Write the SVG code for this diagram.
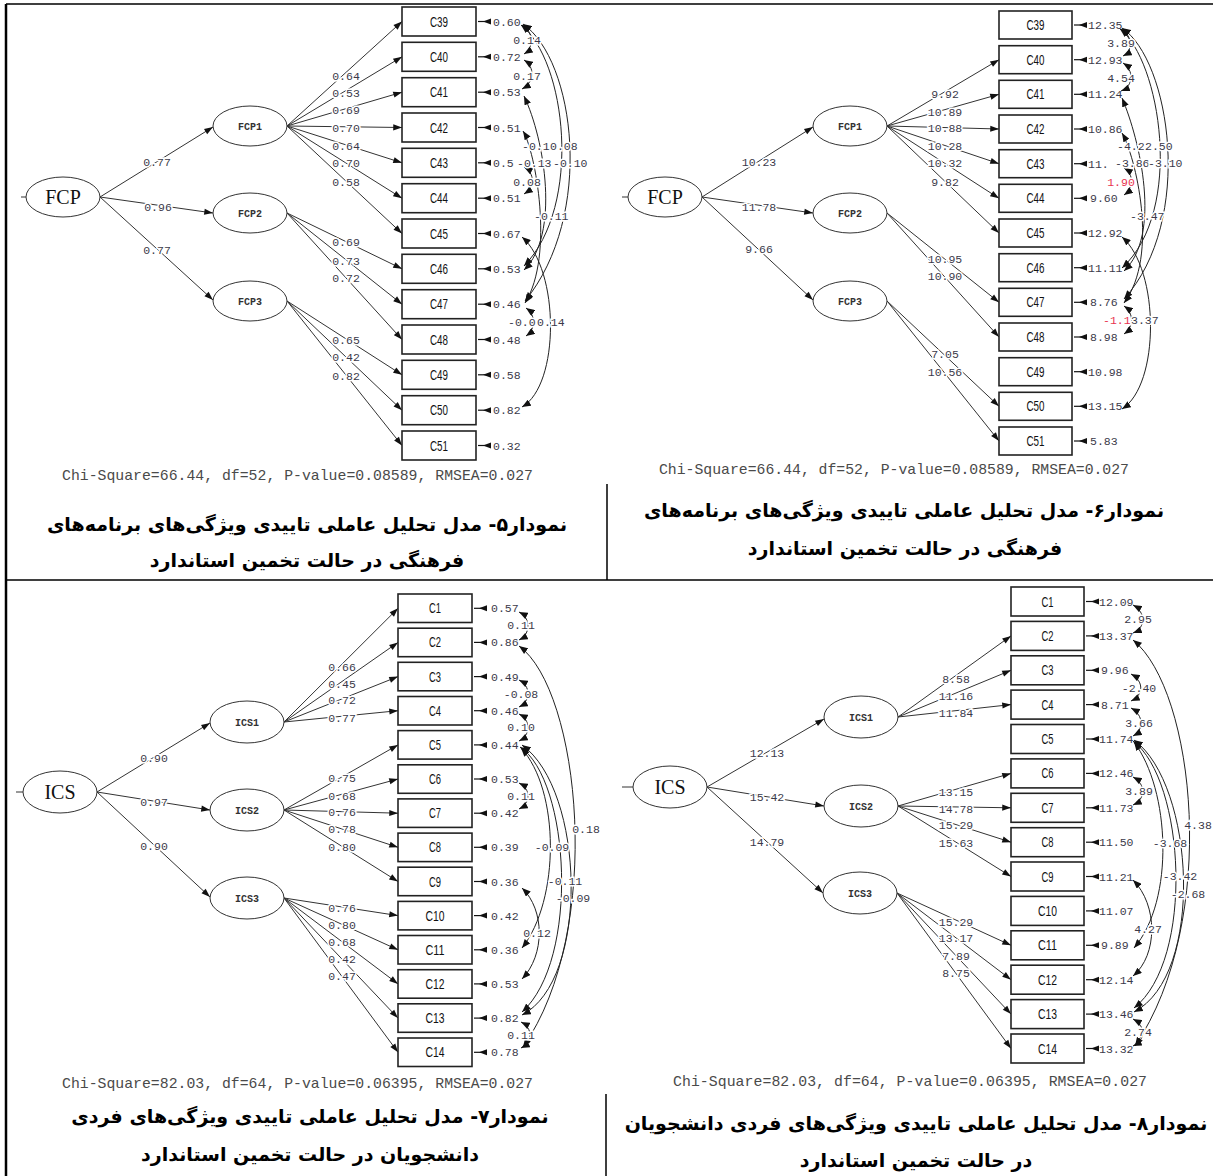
<svg xmlns="http://www.w3.org/2000/svg" xmlns:xlink="http://www.w3.org/1999/xlink" width="1213" height="1176" viewBox="0 0 1213 1176">
<style>
.ln{stroke:#333;stroke-width:1;fill:none}
.ar{stroke:#333;stroke-width:1;fill:none;marker-end:url(#ah)}
.cv{stroke:#222;stroke-width:1;fill:none;marker-start:url(#ch);marker-end:url(#ch)}
.ell{fill:#fff;stroke:#333;stroke-width:1}
.box{fill:#fff;stroke:#222;stroke-width:1.6}
.big{font-family:"Liberation Serif",serif;font-size:20px;text-anchor:middle;fill:#111}
.sm{font-family:"Liberation Mono",monospace;font-size:10px;font-weight:bold;text-anchor:middle;fill:#333}
.bt{font-family:"Liberation Sans Narrow","Liberation Sans",sans-serif;font-size:14px;text-anchor:middle;fill:#111}
.pl{font-family:"Liberation Mono",monospace;font-size:11.5px;fill:#3b3a4a;paint-order:stroke;stroke:#fff;stroke-width:3px}
.c{text-anchor:middle}
.red{fill:#e8334f}
.val{font-family:"Liberation Mono",monospace;font-size:11.5px;fill:#3b3a4a}
.chi{font-family:"Liberation Mono",monospace;font-size:14.8px;fill:#4a4a4a}
.cap{font-family:"DejaVu Sans",sans-serif;font-weight:bold;font-size:19px;text-anchor:middle;direction:rtl;fill:#000}
.tb{stroke:#000;fill:none}
</style>
<defs>
<marker id="ah" viewBox="0 0 10 8" refX="10" refY="4" markerWidth="10" markerHeight="7" markerUnits="userSpaceOnUse" orient="auto"><path d="M0,0.5 L10,4 L0,7.5 Z" fill="#111"/></marker>
<marker id="ch" viewBox="0 0 10 8" refX="10" refY="4" markerWidth="9" markerHeight="7" markerUnits="userSpaceOnUse" orient="auto-start-reverse"><path d="M0,0 L10,4 L0,8 Z" fill="#111"/></marker>
<g id="ea"><line x1="0" y1="0" x2="13" y2="0" stroke="#111" stroke-width="1.2"/><path d="M5,0 L13,-3 L13,3 Z" fill="#111"/></g>
</defs>

<g id="table">
<path class="tb" stroke-width="1.5" d="M6,4 H1213 M6,580 H1213"/>
<path class="tb" stroke-width="2.5" d="M6,4 V1176"/>
<path class="tb" stroke-width="1.5" d="M607,484 V580 M606,1094 V1176"/>
</g>

<!-- ================= TOP LEFT ================= -->
<g id="tl-connectors">
<path class="ln" d="M21,197 H26"/>
<path class="ar" d="M100,197 L213,127"/>
<path class="ar" d="M100,197 L213,213"/>
<path class="ar" d="M100,197 L213,300"/>
<path class="ar" d="M287,126 L402,21.5"/>
<path class="ar" d="M287,126 L402,56.8"/>
<path class="ar" d="M287,126 L402,92.2"/>
<path class="ar" d="M287,126 L402,127.5"/>
<path class="ar" d="M287,126 L402,162.8"/>
<path class="ar" d="M287,126 L402,198.2"/>
<path class="ar" d="M287,126 L402,233.5"/>
<path class="ar" d="M287,213 L402,268.8"/>
<path class="ar" d="M287,213 L402,304.2"/>
<path class="ar" d="M287,213 L402,339.5"/>
<path class="ar" d="M287,301 L402,374.8"/>
<path class="ar" d="M287,301 L402,410.2"/>
<path class="ar" d="M287,301 L402,445.5"/>
<use href="#ea" x="478" y="21.5"/><use href="#ea" x="478" y="56.8"/><use href="#ea" x="478" y="92.2"/><use href="#ea" x="478" y="127.5"/><use href="#ea" x="478" y="162.8"/><use href="#ea" x="478" y="198.2"/><use href="#ea" x="478" y="233.5"/><use href="#ea" x="478" y="268.8"/><use href="#ea" x="478" y="304.2"/><use href="#ea" x="478" y="339.5"/><use href="#ea" x="478" y="374.8"/><use href="#ea" x="478" y="410.2"/><use href="#ea" x="478" y="445.5"/>
</g>
<g id="tl-nodes">
<g id="tl-FCP"><ellipse class="ell" cx="63" cy="197" rx="37" ry="20"/><text class="big" x="63" y="204">FCP</text></g>
<g id="tl-FCP1"><ellipse class="ell" cx="250" cy="126" rx="37" ry="20"/><text class="sm" x="250" y="130">FCP1</text></g>
<g id="tl-FCP2"><ellipse class="ell" cx="250" cy="213" rx="37" ry="20"/><text class="sm" x="250" y="217">FCP2</text></g>
<g id="tl-FCP3"><ellipse class="ell" cx="250" cy="301" rx="37" ry="20"/><text class="sm" x="250" y="305">FCP3</text></g>
<g id="tl-C39"><rect class="box" x="402" y="7" width="74" height="29"/><text class="bt" x="439" y="26.5" textLength="18" lengthAdjust="spacingAndGlyphs">C39</text></g>
<g id="tl-C40"><rect class="box" x="402" y="42.3" width="74" height="29"/><text class="bt" x="439" y="61.8" textLength="18" lengthAdjust="spacingAndGlyphs">C40</text></g>
<g id="tl-C41"><rect class="box" x="402" y="77.7" width="74" height="29"/><text class="bt" x="439" y="97.2" textLength="18" lengthAdjust="spacingAndGlyphs">C41</text></g>
<g id="tl-C42"><rect class="box" x="402" y="113" width="74" height="29"/><text class="bt" x="439" y="132.5" textLength="18" lengthAdjust="spacingAndGlyphs">C42</text></g>
<g id="tl-C43"><rect class="box" x="402" y="148.3" width="74" height="29"/><text class="bt" x="439" y="167.8" textLength="18" lengthAdjust="spacingAndGlyphs">C43</text></g>
<g id="tl-C44"><rect class="box" x="402" y="183.7" width="74" height="29"/><text class="bt" x="439" y="203.2" textLength="18" lengthAdjust="spacingAndGlyphs">C44</text></g>
<g id="tl-C45"><rect class="box" x="402" y="219" width="74" height="29"/><text class="bt" x="439" y="238.5" textLength="18" lengthAdjust="spacingAndGlyphs">C45</text></g>
<g id="tl-C46"><rect class="box" x="402" y="254.3" width="74" height="29"/><text class="bt" x="439" y="273.8" textLength="18" lengthAdjust="spacingAndGlyphs">C46</text></g>
<g id="tl-C47"><rect class="box" x="402" y="289.7" width="74" height="29"/><text class="bt" x="439" y="309.2" textLength="18" lengthAdjust="spacingAndGlyphs">C47</text></g>
<g id="tl-C48"><rect class="box" x="402" y="325" width="74" height="29"/><text class="bt" x="439" y="344.5" textLength="18" lengthAdjust="spacingAndGlyphs">C48</text></g>
<g id="tl-C49"><rect class="box" x="402" y="360.3" width="74" height="29"/><text class="bt" x="439" y="379.8" textLength="18" lengthAdjust="spacingAndGlyphs">C49</text></g>
<g id="tl-C50"><rect class="box" x="402" y="395.7" width="74" height="29"/><text class="bt" x="439" y="415.2" textLength="18" lengthAdjust="spacingAndGlyphs">C50</text></g>
<g id="tl-C51"><rect class="box" x="402" y="431" width="74" height="29"/><text class="bt" x="439" y="450.5" textLength="18" lengthAdjust="spacingAndGlyphs">C51</text></g>
</g>
<g id="tl-values">
<text class="val" x="493" y="25.5">0.60</text><text class="val" x="493" y="60.8">0.72</text><text class="val" x="493" y="96.2">0.53</text><text class="val" x="493" y="131.5">0.51</text><text class="val" x="493" y="166.8">0.5</text><text class="val" x="493" y="202.2">0.51</text><text class="val" x="493" y="237.5">0.67</text><text class="val" x="493" y="272.8">0.53</text><text class="val" x="493" y="308.2">0.46</text><text class="val" x="493" y="343.5">0.48</text><text class="val" x="493" y="378.8">0.58</text><text class="val" x="493" y="414.2">0.82</text><text class="val" x="493" y="449.5">0.32</text>
</g>
<g id="tl-covariances">
<path class="cv" d="M522,25 C534,32 534,48 524,54"/>
<path class="cv" d="M524,60 C535,67 535,82 522,89"/>
<path class="cv" d="M524,167 C535,173 535,187 524,194"/>
<path class="cv" d="M521,25 C566,60 583,205 524,266"/>
<path class="cv" d="M523,24 C575,60 595,215 525,301"/>
<path class="cv" d="M524,96 C545,140 560,235 524,270"/>
<path class="cv" d="M523,131 C535,150 555,255 525,303"/>
<path class="cv" d="M522,237 C560,270 560,385 522,407"/>
<path class="cv" d="M526,308 C536,315 536,329 526,336"/>
</g>
<g id="tl-labels">
<text class="pl c" x="157" y="166">0.77</text>
<text class="pl c" x="158" y="211">0.96</text>
<text class="pl c" x="157" y="254">0.77</text>
<text class="pl c" x="346" y="80">0.64</text>
<text class="pl c" x="346" y="97">0.53</text>
<text class="pl c" x="346" y="114">0.69</text>
<text class="pl c" x="346" y="132">0.70</text>
<text class="pl c" x="346" y="150">0.64</text>
<text class="pl c" x="346" y="167">0.70</text>
<text class="pl c" x="346" y="186">0.58</text>
<text class="pl c" x="346" y="246">0.69</text>
<text class="pl c" x="346" y="265">0.73</text>
<text class="pl c" x="346" y="282">0.72</text>
<text class="pl c" x="346" y="344">0.65</text>
<text class="pl c" x="346" y="361">0.42</text>
<text class="pl c" x="346" y="380">0.82</text>
<text class="pl c" x="527" y="44">0.14</text>
<text class="pl c" x="527" y="80">0.17</text>
<text class="pl c" x="527" y="186">0.08</text>
<text class="pl" x="522" y="150">-0.1</text>
<text class="pl" x="550" y="150">0.08</text>
<text class="pl" x="517" y="167">-0.13</text>
<text class="pl" x="553" y="167">-0.10</text>
<text class="pl" x="534" y="220">-0.11</text>
<text class="pl" x="508" y="326">-0.0</text>
<text class="pl" x="537" y="326">0.14</text>
<text class="chi" x="62" y="480" textLength="471">Chi-Square=66.44, df=52, P-value=0.08589, RMSEA=0.027</text>
</g>

<!-- ================= TOP RIGHT ================= -->
<g id="tr-connectors">
<path class="ln" d="M622,197 H628"/>
<path class="ar" d="M702,197 L813,127"/>
<path class="ar" d="M702,197 L813,213"/>
<path class="ar" d="M702,197 L813,300"/>
<path class="ar" d="M887,126 L999,59.7"/>
<path class="ar" d="M887,126 L999,94.3"/>
<path class="ar" d="M887,126 L999,129"/>
<path class="ar" d="M887,126 L999,163.7"/>
<path class="ar" d="M887,126 L999,198.3"/>
<path class="ar" d="M887,126 L999,233"/>
<path class="ar" d="M887,213 L999,302.3"/>
<path class="ar" d="M887,213 L999,337"/>
<path class="ar" d="M887,301 L999,406.3"/>
<path class="ar" d="M887,301 L999,441"/>
<use href="#ea" x="1074" y="25"/><use href="#ea" x="1074" y="59.7"/><use href="#ea" x="1074" y="94.3"/><use href="#ea" x="1074" y="129"/><use href="#ea" x="1074" y="163.7"/><use href="#ea" x="1074" y="198.3"/><use href="#ea" x="1074" y="233"/><use href="#ea" x="1074" y="267.7"/><use href="#ea" x="1074" y="302.3"/><use href="#ea" x="1074" y="337"/><use href="#ea" x="1074" y="371.7"/><use href="#ea" x="1074" y="406.3"/><use href="#ea" x="1074" y="441"/>
</g>
<g id="tr-nodes">
<g id="tr-FCP"><ellipse class="ell" cx="665" cy="197" rx="37" ry="20"/><text class="big" x="665" y="204">FCP</text></g>
<g id="tr-FCP1"><ellipse class="ell" cx="850" cy="126" rx="37" ry="20"/><text class="sm" x="850" y="130">FCP1</text></g>
<g id="tr-FCP2"><ellipse class="ell" cx="850" cy="213" rx="37" ry="20"/><text class="sm" x="850" y="217">FCP2</text></g>
<g id="tr-FCP3"><ellipse class="ell" cx="850" cy="301" rx="37" ry="20"/><text class="sm" x="850" y="305">FCP3</text></g>
<g id="tr-C39"><rect class="box" x="999" y="11" width="73" height="28"/><text class="bt" x="1035.5" y="30" textLength="18" lengthAdjust="spacingAndGlyphs">C39</text></g>
<g id="tr-C40"><rect class="box" x="999" y="45.7" width="73" height="28"/><text class="bt" x="1035.5" y="64.7" textLength="18" lengthAdjust="spacingAndGlyphs">C40</text></g>
<g id="tr-C41"><rect class="box" x="999" y="80.3" width="73" height="28"/><text class="bt" x="1035.5" y="99.3" textLength="18" lengthAdjust="spacingAndGlyphs">C41</text></g>
<g id="tr-C42"><rect class="box" x="999" y="115" width="73" height="28"/><text class="bt" x="1035.5" y="134" textLength="18" lengthAdjust="spacingAndGlyphs">C42</text></g>
<g id="tr-C43"><rect class="box" x="999" y="149.7" width="73" height="28"/><text class="bt" x="1035.5" y="168.7" textLength="18" lengthAdjust="spacingAndGlyphs">C43</text></g>
<g id="tr-C44"><rect class="box" x="999" y="184.3" width="73" height="28"/><text class="bt" x="1035.5" y="203.3" textLength="18" lengthAdjust="spacingAndGlyphs">C44</text></g>
<g id="tr-C45"><rect class="box" x="999" y="219" width="73" height="28"/><text class="bt" x="1035.5" y="238" textLength="18" lengthAdjust="spacingAndGlyphs">C45</text></g>
<g id="tr-C46"><rect class="box" x="999" y="253.7" width="73" height="28"/><text class="bt" x="1035.5" y="272.7" textLength="18" lengthAdjust="spacingAndGlyphs">C46</text></g>
<g id="tr-C47"><rect class="box" x="999" y="288.3" width="73" height="28"/><text class="bt" x="1035.5" y="307.3" textLength="18" lengthAdjust="spacingAndGlyphs">C47</text></g>
<g id="tr-C48"><rect class="box" x="999" y="323" width="73" height="28"/><text class="bt" x="1035.5" y="342" textLength="18" lengthAdjust="spacingAndGlyphs">C48</text></g>
<g id="tr-C49"><rect class="box" x="999" y="357.7" width="73" height="28"/><text class="bt" x="1035.5" y="376.7" textLength="18" lengthAdjust="spacingAndGlyphs">C49</text></g>
<g id="tr-C50"><rect class="box" x="999" y="392.3" width="73" height="28"/><text class="bt" x="1035.5" y="411.3" textLength="18" lengthAdjust="spacingAndGlyphs">C50</text></g>
<g id="tr-C51"><rect class="box" x="999" y="427" width="73" height="28"/><text class="bt" x="1035.5" y="446" textLength="18" lengthAdjust="spacingAndGlyphs">C51</text></g>
</g>
<g id="tr-values">
<text class="val" x="1088" y="29">12.35</text><text class="val" x="1088" y="63.7">12.93</text><text class="val" x="1088" y="98.3">11.24</text><text class="val" x="1088" y="133">10.86</text><text class="val" x="1088" y="167.7">11.</text><text class="val" x="1090" y="202.3">9.60</text><text class="val" x="1088" y="237">12.92</text><text class="val" x="1088" y="271.7">11.11</text><text class="val" x="1090" y="306.3">8.76</text><text class="val" x="1090" y="341">8.98</text><text class="val" x="1088" y="375.7">10.98</text><text class="val" x="1088" y="410.3">13.15</text><text class="val" x="1090" y="445">5.83</text>
</g>
<g id="tr-covariances">
<path class="cv" d="M1121,29 C1133,36 1133,51 1123,56"/>
<path class="cv" d="M1123,63 C1134,70 1134,86 1121,91"/>
<path class="cv" d="M1124,168 C1134,174 1134,188 1124,195"/>
<path class="cv" d="M1120,29 C1160,60 1185,210 1122,268"/>
<path class="cv" d="M1122,28 C1170,60 1195,220 1124,299"/>
<path class="cv" d="M1122,98 C1140,140 1162,235 1124,271"/>
<path class="cv" d="M1122,133 C1135,155 1160,255 1124,303"/>
<path class="cv" d="M1122,237 C1160,270 1160,385 1122,409"/>
<path class="cv" d="M1124,306 C1134,313 1134,327 1124,334"/>
</g>
<g id="tr-labels">
<text class="pl c" x="759" y="166">10.23</text>
<text class="pl c" x="759" y="211">11.78</text>
<text class="pl c" x="759" y="253">9.66</text>
<text class="pl c" x="945" y="98">9.92</text>
<text class="pl c" x="945" y="116">10.89</text>
<text class="pl c" x="945" y="132">10.88</text>
<text class="pl c" x="945" y="150">10.28</text>
<text class="pl c" x="945" y="167">10.32</text>
<text class="pl c" x="945" y="186">9.82</text>
<text class="pl c" x="945" y="263">10.95</text>
<text class="pl c" x="945" y="280">10.90</text>
<text class="pl c" x="945" y="358">7.05</text>
<text class="pl c" x="945" y="376">10.56</text>
<text class="pl c" x="1121" y="47">3.89</text>
<text class="pl c" x="1121" y="82">4.54</text>
<text class="pl" x="1117" y="150">-4.2</text>
<text class="pl" x="1145" y="150">2.50</text>
<text class="pl" x="1115" y="167">-3.86</text>
<text class="pl" x="1148" y="167">-3.10</text>
<text class="pl c red" x="1121" y="186">1.90</text>
<text class="pl" x="1130" y="220">-3.47</text>
<text class="pl red" x="1103" y="324">-1.1</text>
<text class="pl" x="1131" y="324">3.37</text>
<text class="chi" x="659" y="474" textLength="470">Chi-Square=66.44, df=52, P-value=0.08589, RMSEA=0.027</text>
</g>

<!-- ================= BOTTOM LEFT ================= -->
<g id="bl-connectors">
<path class="ln" d="M16,792 H23"/>
<path class="ar" d="M97,792 L210,723"/>
<path class="ar" d="M97,792 L210,810"/>
<path class="ar" d="M97,792 L210,897"/>
<path class="ar" d="M284,722 L398,608.3"/>
<path class="ar" d="M284,722 L398,642.4"/>
<path class="ar" d="M284,722 L398,676.6"/>
<path class="ar" d="M284,722 L398,710.7"/>
<path class="ar" d="M284,810 L398,744.9"/>
<path class="ar" d="M284,810 L398,779"/>
<path class="ar" d="M284,810 L398,813.2"/>
<path class="ar" d="M284,810 L398,847.3"/>
<path class="ar" d="M284,810 L398,881.5"/>
<path class="ar" d="M284,898 L398,915.6"/>
<path class="ar" d="M284,898 L398,949.8"/>
<path class="ar" d="M284,898 L398,983.9"/>
<path class="ar" d="M284,898 L398,1018.1"/>
<path class="ar" d="M284,898 L398,1052.3"/>
<use href="#ea" x="474" y="608.3"/><use href="#ea" x="474" y="642.4"/><use href="#ea" x="474" y="676.6"/><use href="#ea" x="474" y="710.7"/><use href="#ea" x="474" y="744.9"/><use href="#ea" x="474" y="779"/><use href="#ea" x="474" y="813.2"/><use href="#ea" x="474" y="847.3"/><use href="#ea" x="474" y="881.5"/><use href="#ea" x="474" y="915.6"/><use href="#ea" x="474" y="949.8"/><use href="#ea" x="474" y="983.9"/><use href="#ea" x="474" y="1018.1"/><use href="#ea" x="474" y="1052.3"/>
</g>
<g id="bl-nodes">
<g id="bl-ICS"><ellipse class="ell" cx="60" cy="792" rx="37" ry="21"/><text class="big" x="60" y="799">ICS</text></g>
<g id="bl-ICS1"><ellipse class="ell" cx="247" cy="722" rx="37" ry="21"/><text class="sm" x="247" y="726">ICS1</text></g>
<g id="bl-ICS2"><ellipse class="ell" cx="247" cy="810" rx="37" ry="21"/><text class="sm" x="247" y="814">ICS2</text></g>
<g id="bl-ICS3"><ellipse class="ell" cx="247" cy="898" rx="37" ry="21"/><text class="sm" x="247" y="902">ICS3</text></g>
<g id="bl-C1"><rect class="box" x="398" y="594" width="74" height="28.5"/><text class="bt" x="435" y="613.3" textLength="12" lengthAdjust="spacingAndGlyphs">C1</text></g>
<g id="bl-C2"><rect class="box" x="398" y="628.2" width="74" height="28.5"/><text class="bt" x="435" y="647.4" textLength="12" lengthAdjust="spacingAndGlyphs">C2</text></g>
<g id="bl-C3"><rect class="box" x="398" y="662.3" width="74" height="28.5"/><text class="bt" x="435" y="681.6" textLength="12" lengthAdjust="spacingAndGlyphs">C3</text></g>
<g id="bl-C4"><rect class="box" x="398" y="696.5" width="74" height="28.5"/><text class="bt" x="435" y="715.7" textLength="12" lengthAdjust="spacingAndGlyphs">C4</text></g>
<g id="bl-C5"><rect class="box" x="398" y="730.6" width="74" height="28.5"/><text class="bt" x="435" y="749.9" textLength="12" lengthAdjust="spacingAndGlyphs">C5</text></g>
<g id="bl-C6"><rect class="box" x="398" y="764.8" width="74" height="28.5"/><text class="bt" x="435" y="784" textLength="12" lengthAdjust="spacingAndGlyphs">C6</text></g>
<g id="bl-C7"><rect class="box" x="398" y="798.9" width="74" height="28.5"/><text class="bt" x="435" y="818.2" textLength="12" lengthAdjust="spacingAndGlyphs">C7</text></g>
<g id="bl-C8"><rect class="box" x="398" y="833.1" width="74" height="28.5"/><text class="bt" x="435" y="852.3" textLength="12" lengthAdjust="spacingAndGlyphs">C8</text></g>
<g id="bl-C9"><rect class="box" x="398" y="867.2" width="74" height="28.5"/><text class="bt" x="435" y="886.5" textLength="12" lengthAdjust="spacingAndGlyphs">C9</text></g>
<g id="bl-C10"><rect class="box" x="398" y="901.4" width="74" height="28.5"/><text class="bt" x="435" y="920.6" textLength="19" lengthAdjust="spacingAndGlyphs">C10</text></g>
<g id="bl-C11"><rect class="box" x="398" y="935.5" width="74" height="28.5"/><text class="bt" x="435" y="954.8" textLength="19" lengthAdjust="spacingAndGlyphs">C11</text></g>
<g id="bl-C12"><rect class="box" x="398" y="969.7" width="74" height="28.5"/><text class="bt" x="435" y="988.9" textLength="19" lengthAdjust="spacingAndGlyphs">C12</text></g>
<g id="bl-C13"><rect class="box" x="398" y="1003.8" width="74" height="28.5"/><text class="bt" x="435" y="1023.1" textLength="19" lengthAdjust="spacingAndGlyphs">C13</text></g>
<g id="bl-C14"><rect class="box" x="398" y="1038" width="74" height="28.5"/><text class="bt" x="435" y="1057.3" textLength="19" lengthAdjust="spacingAndGlyphs">C14</text></g>
</g>
<g id="bl-values">
<text class="val" x="491" y="612.3">0.57</text><text class="val" x="491" y="646.4">0.86</text><text class="val" x="491" y="680.6">0.49</text><text class="val" x="491" y="714.7">0.46</text><text class="val" x="491" y="748.9">0.44</text><text class="val" x="491" y="783">0.53</text><text class="val" x="491" y="817.2">0.42</text><text class="val" x="491" y="851.3">0.39</text><text class="val" x="491" y="885.5">0.36</text><text class="val" x="491" y="919.6">0.42</text><text class="val" x="491" y="953.8">0.36</text><text class="val" x="491" y="987.9">0.53</text><text class="val" x="491" y="1022.1">0.82</text><text class="val" x="491" y="1056.3">0.78</text>
</g>
<g id="bl-covariances">
<path class="cv" d="M519,612 C531,618 531,634 519,640"/>
<path class="cv" d="M519,680 C531,686 531,701 519,707"/>
<path class="cv" d="M519,714 C531,720 531,735 519,741"/>
<path class="cv" d="M519,783 C531,789 531,803 519,809"/>
<path class="cv" d="M519,646 C580,690 605,930 523,1047"/>
<path class="cv" d="M521,748 C560,790 560,900 522,948"/>
<path class="cv" d="M520,747 C570,780 580,960 522,1012"/>
<path class="cv" d="M522,745 C585,790 590,980 522,1015"/>
<path class="cv" d="M522,888 C545,910 545,955 522,979"/>
<path class="cv" d="M521,1022 C533,1028 533,1042 521,1048"/>
</g>
<g id="bl-labels">
<text class="pl c" x="154" y="762">0.90</text>
<text class="pl c" x="154" y="806">0.97</text>
<text class="pl c" x="154" y="850">0.90</text>
<text class="pl c" x="342" y="671">0.66</text>
<text class="pl c" x="342" y="688">0.45</text>
<text class="pl c" x="342" y="704">0.72</text>
<text class="pl c" x="342" y="722">0.77</text>
<text class="pl c" x="342" y="782">0.75</text>
<text class="pl c" x="342" y="800">0.68</text>
<text class="pl c" x="342" y="816">0.76</text>
<text class="pl c" x="342" y="833">0.78</text>
<text class="pl c" x="342" y="851">0.80</text>
<text class="pl c" x="342" y="912">0.76</text>
<text class="pl c" x="342" y="929">0.80</text>
<text class="pl c" x="342" y="946">0.68</text>
<text class="pl c" x="342" y="963">0.42</text>
<text class="pl c" x="342" y="980">0.47</text>
<text class="pl c" x="521" y="629">0.11</text>
<text class="pl c" x="521" y="698">-0.08</text>
<text class="pl c" x="521" y="731">0.10</text>
<text class="pl c" x="521" y="800">0.11</text>
<text class="pl c" x="586" y="833">0.18</text>
<text class="pl c" x="552" y="851">-0.09</text>
<text class="pl c" x="565" y="885">-0.11</text>
<text class="pl c" x="573" y="902">-0.09</text>
<text class="pl c" x="537" y="937">0.12</text>
<text class="pl c" x="521" y="1039">0.11</text>
<text class="chi" x="62" y="1088" textLength="471">Chi-Square=82.03, df=64, P-value=0.06395, RMSEA=0.027</text>
</g>

<!-- ================= BOTTOM RIGHT ================= -->
<g id="br-connectors">
<path class="ln" d="M622,787 H633"/>
<path class="ar" d="M707,787 L824,719"/>
<path class="ar" d="M707,787 L824,806"/>
<path class="ar" d="M707,787 L823,893"/>
<path class="ar" d="M898,717 L1011,635.9"/>
<path class="ar" d="M898,717 L1011,670.3"/>
<path class="ar" d="M898,717 L1011,704.6"/>
<path class="ar" d="M898,806 L1011,773.4"/>
<path class="ar" d="M898,806 L1011,807.8"/>
<path class="ar" d="M898,806 L1011,842.2"/>
<path class="ar" d="M898,806 L1011,876.5"/>
<path class="ar" d="M897,893 L1011,945.3"/>
<path class="ar" d="M897,893 L1011,979.7"/>
<path class="ar" d="M897,893 L1011,1014.1"/>
<path class="ar" d="M897,893 L1011,1048.5"/>
<use href="#ea" x="1086" y="601.5"/><use href="#ea" x="1086" y="635.9"/><use href="#ea" x="1086" y="670.3"/><use href="#ea" x="1086" y="704.6"/><use href="#ea" x="1086" y="739"/><use href="#ea" x="1086" y="773.4"/><use href="#ea" x="1086" y="807.8"/><use href="#ea" x="1086" y="842.2"/><use href="#ea" x="1086" y="876.5"/><use href="#ea" x="1086" y="910.9"/><use href="#ea" x="1086" y="945.3"/><use href="#ea" x="1086" y="979.7"/><use href="#ea" x="1086" y="1014.1"/><use href="#ea" x="1086" y="1048.5"/>
</g>
<g id="br-nodes">
<g id="br-ICS"><ellipse class="ell" cx="670" cy="787" rx="37" ry="21"/><text class="big" x="670" y="794">ICS</text></g>
<g id="br-ICS1"><ellipse class="ell" cx="861" cy="717" rx="37" ry="21"/><text class="sm" x="861" y="721">ICS1</text></g>
<g id="br-ICS2"><ellipse class="ell" cx="861" cy="806" rx="37" ry="21"/><text class="sm" x="861" y="810">ICS2</text></g>
<g id="br-ICS3"><ellipse class="ell" cx="860" cy="893" rx="37" ry="21"/><text class="sm" x="860" y="897">ICS3</text></g>
<g id="br-C1"><rect class="box" x="1011" y="587" width="73" height="29"/><text class="bt" x="1047.5" y="606.5" textLength="12" lengthAdjust="spacingAndGlyphs">C1</text></g>
<g id="br-C2"><rect class="box" x="1011" y="621.4" width="73" height="29"/><text class="bt" x="1047.5" y="640.9" textLength="12" lengthAdjust="spacingAndGlyphs">C2</text></g>
<g id="br-C3"><rect class="box" x="1011" y="655.8" width="73" height="29"/><text class="bt" x="1047.5" y="675.3" textLength="12" lengthAdjust="spacingAndGlyphs">C3</text></g>
<g id="br-C4"><rect class="box" x="1011" y="690.1" width="73" height="29"/><text class="bt" x="1047.5" y="709.6" textLength="12" lengthAdjust="spacingAndGlyphs">C4</text></g>
<g id="br-C5"><rect class="box" x="1011" y="724.5" width="73" height="29"/><text class="bt" x="1047.5" y="744" textLength="12" lengthAdjust="spacingAndGlyphs">C5</text></g>
<g id="br-C6"><rect class="box" x="1011" y="758.9" width="73" height="29"/><text class="bt" x="1047.5" y="778.4" textLength="12" lengthAdjust="spacingAndGlyphs">C6</text></g>
<g id="br-C7"><rect class="box" x="1011" y="793.3" width="73" height="29"/><text class="bt" x="1047.5" y="812.8" textLength="12" lengthAdjust="spacingAndGlyphs">C7</text></g>
<g id="br-C8"><rect class="box" x="1011" y="827.7" width="73" height="29"/><text class="bt" x="1047.5" y="847.2" textLength="12" lengthAdjust="spacingAndGlyphs">C8</text></g>
<g id="br-C9"><rect class="box" x="1011" y="862" width="73" height="29"/><text class="bt" x="1047.5" y="881.5" textLength="12" lengthAdjust="spacingAndGlyphs">C9</text></g>
<g id="br-C10"><rect class="box" x="1011" y="896.4" width="73" height="29"/><text class="bt" x="1047.5" y="915.9" textLength="19" lengthAdjust="spacingAndGlyphs">C10</text></g>
<g id="br-C11"><rect class="box" x="1011" y="930.8" width="73" height="29"/><text class="bt" x="1047.5" y="950.3" textLength="19" lengthAdjust="spacingAndGlyphs">C11</text></g>
<g id="br-C12"><rect class="box" x="1011" y="965.2" width="73" height="29"/><text class="bt" x="1047.5" y="984.7" textLength="19" lengthAdjust="spacingAndGlyphs">C12</text></g>
<g id="br-C13"><rect class="box" x="1011" y="999.6" width="73" height="29"/><text class="bt" x="1047.5" y="1019.1" textLength="19" lengthAdjust="spacingAndGlyphs">C13</text></g>
<g id="br-C14"><rect class="box" x="1011" y="1034" width="73" height="29"/><text class="bt" x="1047.5" y="1053.5" textLength="19" lengthAdjust="spacingAndGlyphs">C14</text></g>
</g>
<g id="br-values">
<text class="val" x="1099" y="605.5">12.09</text><text class="val" x="1099" y="639.9">13.37</text><text class="val" x="1101" y="674.3">9.96</text><text class="val" x="1101" y="708.6">8.71</text><text class="val" x="1099" y="743">11.74</text><text class="val" x="1099" y="777.4">12.46</text><text class="val" x="1099" y="811.8">11.73</text><text class="val" x="1099" y="846.2">11.50</text><text class="val" x="1099" y="880.5">11.21</text><text class="val" x="1099" y="914.9">11.07</text><text class="val" x="1101" y="949.3">9.89</text><text class="val" x="1099" y="983.7">12.14</text><text class="val" x="1099" y="1018.1">13.46</text><text class="val" x="1099" y="1052.5">13.32</text>
</g>
<g id="br-covariances">
<path class="cv" d="M1133,605 C1146,612 1146,628 1133,633"/>
<path class="cv" d="M1131,674 C1144,681 1144,695 1131,701"/>
<path class="cv" d="M1131,708 C1144,715 1144,730 1133,736"/>
<path class="cv" d="M1133,777 C1146,784 1146,799 1133,805"/>
<path class="cv" d="M1133,640 C1195,690 1220,920 1135,1046"/>
<path class="cv" d="M1134,742 C1170,790 1175,900 1134,948"/>
<path class="cv" d="M1133,741 C1185,780 1195,960 1134,1008"/>
<path class="cv" d="M1134,740 C1195,785 1205,975 1134,1012"/>
<path class="cv" d="M1133,880 C1158,905 1158,955 1133,976"/>
<path class="cv" d="M1133,1019 C1146,1026 1146,1040 1133,1046"/>
</g>
<g id="br-labels">
<text class="pl c" x="767" y="757">12.13</text>
<text class="pl c" x="767" y="801">15.42</text>
<text class="pl c" x="767" y="846">14.79</text>
<text class="pl c" x="956" y="683">8.58</text>
<text class="pl c" x="956" y="700">11.16</text>
<text class="pl c" x="956" y="717">11.84</text>
<text class="pl c" x="956" y="796">13.15</text>
<text class="pl c" x="956" y="813">14.78</text>
<text class="pl c" x="956" y="829">15.29</text>
<text class="pl c" x="956" y="847">15.63</text>
<text class="pl c" x="956" y="926">15.29</text>
<text class="pl c" x="956" y="942">13.17</text>
<text class="pl c" x="956" y="960">7.89</text>
<text class="pl c" x="956" y="977">8.75</text>
<text class="pl c" x="1138" y="623">2.95</text>
<text class="pl c" x="1139" y="692">-2.40</text>
<text class="pl c" x="1139" y="727">3.66</text>
<text class="pl c" x="1139" y="795">3.89</text>
<text class="pl c" x="1198" y="829">4.38</text>
<text class="pl c" x="1170" y="847">-3.68</text>
<text class="pl c" x="1180" y="880">-3.42</text>
<text class="pl c" x="1188" y="898">-2.68</text>
<text class="pl c" x="1148" y="933">4.27</text>
<text class="pl c" x="1138" y="1036">2.74</text>
<text class="chi" x="673" y="1086" textLength="474">Chi-Square=82.03, df=64, P-value=0.06395, RMSEA=0.027</text>
</g>

<g id="captions">
<text class="cap" x="307" y="531">نمودار۵- مدل تحلیل عاملی تاییدی ویژگی‌های برنامه‌های</text>
<text class="cap" x="307" y="567">فرهنگی در حالت تخمین استاندارد</text>
<text class="cap" x="904" y="517">نمودار۶- مدل تحلیل عاملی تاییدی ویژگی‌های برنامه‌های</text>
<text class="cap" x="905" y="555">فرهنگی در حالت تخمین استاندارد</text>
<text class="cap" x="310" y="1123">نمودار۷- مدل تحلیل عاملی تاییدی ویژگی‌های فردی</text>
<text class="cap" x="310" y="1161">دانشجویان در حالت تخمین استاندارد</text>
<text class="cap" x="916" y="1130">نمودار۸- مدل تحلیل عاملی تاییدی ویژگی‌های فردی دانشجویان</text>
<text class="cap" x="916" y="1167">در حالت تخمین استاندارد</text>
</g>
</svg>
